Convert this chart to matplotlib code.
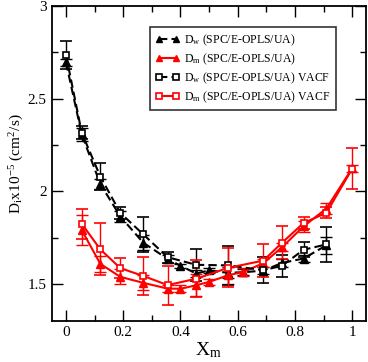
import matplotlib
matplotlib.use("Agg")
import matplotlib.pyplot as plt
from matplotlib.ticker import MultipleLocator

plt.rcParams["font.family"] = ["Liberation Serif", "DejaVu Serif"]
plt.rcParams["mathtext.fontset"] = "stix"

# Dw (SPC/E-OPLS/UA)
xw_tri = [0, 0.055, 0.12, 0.19, 0.27, 0.355, 0.40, 0.455, 0.50, 0.565, 0.62, 0.69, 0.755, 0.83, 0.91]
dw_tri = [2.695, 2.307, 2.04, 1.865, 1.724, 1.637, 1.60, 1.558, 1.575, 1.562, 1.565, 1.574, 1.615, 1.639, 1.71]
dw_tri_err = [0.02, 0.035, 0.025, 0.03, 0.04, 0.02, 0.01, 0.02, 0.015, 0.03, 0.015, 0.02, 0.02, 0.02, 0.045]

# Dm (SPC/E-OPLS/UA)
xm_tri = [0.055, 0.12, 0.19, 0.27, 0.355, 0.40, 0.455, 0.50, 0.565, 0.62, 0.69, 0.755, 0.83, 0.91, 1.0]
dm_tri = [1.792, 1.61, 1.54, 1.508, 1.477, 1.476, 1.495, 1.513, 1.548, 1.567, 1.614, 1.70, 1.812, 1.908, 2.125]
dm_tri_err = [0.08, 0.045, 0.04, 0.04, 0.02, 0.02, 0.06, 0.015, 0.045, 0.02, 0.02, 0.02, 0.03, 0.03, 0.02]

# Dw (SPC/E-OPLS/UA) VACF
xw_sq = [0, 0.055, 0.12, 0.19, 0.27, 0.355, 0.455, 0.565, 0.69, 0.755, 0.83, 0.91]
dw_sq = [2.735, 2.316, 2.08, 1.884, 1.769, 1.646, 1.605, 1.602, 1.576, 1.60, 1.686, 1.715]
dw_sq_err = [0.077, 0.035, 0.072, 0.03, 0.095, 0.03, 0.085, 0.105, 0.07, 0.06, 0.04, 0.095]

# Dm (SPC/E-OPLS/UA) VACF
xm_sq = [0.055, 0.12, 0.19, 0.27, 0.355, 0.455, 0.565, 0.69, 0.755, 0.83, 0.91, 1.0]
dm_sq = [1.826, 1.688, 1.587, 1.545, 1.496, 1.53, 1.588, 1.628, 1.724, 1.83, 1.885, 2.122]
dm_sq_err = [0.08, 0.14, 0.053, 0.1, 0.105, 0.1, 0.105, 0.09, 0.09, 0.03, 0.03, 0.11]

labels = [r"D$_\mathregular{w}$ (SPC/E-OPLS/UA)",
          r"D$_\mathregular{m}$ (SPC/E-OPLS/UA)",
          r"D$_\mathregular{w}$ (SPC/E-OPLS/UA) VACF",
          r"D$_\mathregular{m}$ (SPC/E-OPLS/UA) VACF"]

fig = plt.figure(figsize=(3.68, 3.62), dpi=100)
ax = fig.add_axes([0.1405, 0.112, 0.853, 0.872])

common = dict(capsize=4, elinewidth=1, capthick=1, lw=1.5)
c1 = ax.errorbar(xw_tri, dw_tri, yerr=dw_tri_err, color="black", ls=(0, (4, 2)),
                 marker="^", ms=6, mfc="black", **common)
c2 = ax.errorbar(xm_tri, dm_tri, yerr=dm_tri_err, color="red", ls="-",
                 marker="^", ms=6, mfc="red", **common)
c3 = ax.errorbar(xw_sq, dw_sq, yerr=dw_sq_err, color="black", ls=(0, (4, 2)),
                 marker="s", ms=5, mfc="white", mew=1.2, **common)
c4 = ax.errorbar(xm_sq, dm_sq, yerr=dm_sq_err, color="red", ls="-",
                 marker="s", ms=5, mfc="white", mew=1.2, **common)

ax.set_xlim(-0.05, 1.047)
ax.set_ylim(1.3, 3.0)
ax.xaxis.set_major_locator(MultipleLocator(0.2))
ax.xaxis.set_minor_locator(MultipleLocator(0.1))
ax.yaxis.set_major_locator(MultipleLocator(0.5))
ax.yaxis.set_minor_locator(MultipleLocator(0.25))
ax.xaxis.set_major_formatter(plt.FuncFormatter(lambda v, p: f"{v:g}"))
ax.yaxis.set_major_formatter(plt.FuncFormatter(lambda v, p: f"{v:g}"))
ax.tick_params(which="both", direction="in", top=True, right=True, labelsize=11, width=1)
ax.tick_params(which="major", length=8)
ax.tick_params(which="minor", length=4)
for s in ax.spines.values():
    s.set_linewidth(1.3)

ax.set_xlabel(r"X$_\mathregular{m}$", fontsize=14, labelpad=1)
ax.set_ylabel(r"D$_\mathregular{i}$x10$^{\mathregular{-5}}$ (cm$^\mathregular{2}$/s)", fontsize=11, labelpad=2)

leg = ax.legend(handles=[c1[0], c2[0], c3[0], c4[0]], labels=labels,
                loc="upper right", bbox_to_anchor=(0.905, 0.933), borderaxespad=0,
                fontsize=8.5, fancybox=False, edgecolor="0.2", framealpha=1,
                numpoints=2, markerscale=0.75, handlelength=2.0, labelspacing=0.3,
                handletextpad=0.4, borderpad=0.45)
leg.get_frame().set_linewidth(1.2)

fig.savefig("out.png", dpi=100)
